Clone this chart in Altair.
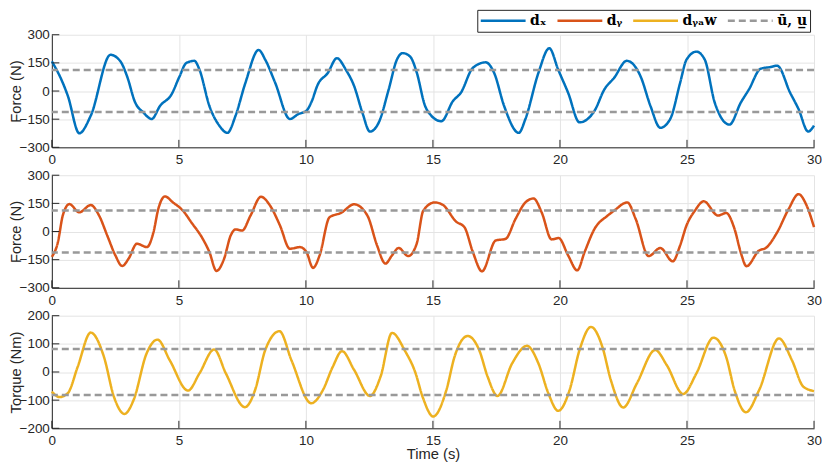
import altair as alt
import pandas as pd

# ---- data ----
T_DX = [0.0, 0.43, 0.63, 1.08, 1.53, 2.31, 2.7, 2.96, 3.28, 3.6, 3.93, 4.26, 4.71, 5.03, 5.29,
        5.61, 5.81, 6.2, 6.59, 6.91, 7.23, 7.62, 8.14, 8.4, 8.79, 9.37, 9.7, 10.02, 10.21, 10.47,
        10.86, 11.22, 11.57, 11.9, 12.22, 12.52, 12.87, 13.26, 13.58, 13.81, 14.1, 14.36, 14.68,
        14.94, 15.33, 15.79, 16.1, 16.57, 17.08, 17.41, 17.8, 18.38, 18.64, 19.15, 19.58, 19.93,
        20.32, 20.77, 21.36, 21.75, 22.13, 22.63, 23.17, 23.56, 23.95, 24.34, 24.73, 24.98, 25.37,
        25.7, 26.09, 26.67, 27.12, 27.44, 27.9, 28.29, 28.55, 29.06, 29.39, 29.77, 30.0]
V_DX = [158, 44, -26, -225, -132, 193, 158, 79, -61, -114, -149, -79, -18, 79, 149,
        161, 114, -79, -184, -223, -132, 44, 219, 167, 44, -149, -123, -105, -61, 35,
        96, 175, 114, 26, -114, -216, -167, 9, 167, 202, 184, 100, -75,
        -132, -161, -53, -9, 123, 153, 96, -79, -223, -149, 96, 228, 114,
        -9, -167, -105, 9, 70, 161, 79, -79, -196, -149, 44, 167, 210,
        167, -61, -179, -61, 9, 119, 128, 135, -9, -96, -216, -184]

T_DY = [0.0, 0.24, 0.43, 0.69, 1.08, 1.53, 1.86, 2.18, 2.5, 2.77, 3.02, 3.35, 3.74, 4.0, 4.19,
        4.45, 4.77, 5.16, 5.49, 5.94, 6.2, 6.48, 6.78, 7.04, 7.23, 7.49, 7.82, 8.23, 8.59, 8.98,
        9.37, 9.76, 10.02, 10.28, 10.54, 10.93, 11.38, 11.9, 12.42, 12.8, 13.13, 13.39, 13.65,
        14.03, 14.36, 14.62, 15.07, 15.4, 15.91, 16.24, 16.57, 16.93, 17.47, 17.86, 18.25, 18.64,
        18.96, 19.28, 19.67, 19.95, 20.32, 20.68, 20.97, 21.36, 21.88, 22.13, 22.65, 22.98, 23.49,
        23.95, 24.44, 24.73, 24.98, 25.31, 25.66, 26.22, 26.54, 26.87, 27.13, 27.34, 27.84, 28.1,
        28.55, 29.0, 29.39, 29.71, 30.0]
V_DY = [-135, -56, 85, 146, 102, 141, 85, -21, -127, -184, -145, -65, -83, -4, 120,
        187, 155, 111, 49, -39, -109, -210, -145, -21, 11, 5, 85, 185, 138, 32,
        -92, -83, -109, -194, -127, 76, 99, 145, 85, -74, -171, -127, -88,
        -131, -65, 111, 155, 141, 53, 23, -109, -212, -48, -39, 67, 155,
        176, 102, -42, -35, -127, -207, -109, 14, 85, 111, 155, 67, -131,
        -88, -159, -74, 32, 111, 161, 85, 99, 14, -118, -185, -101, -88,
        -4, 120, 199, 138, 23]

T_DYAW = [0.0, 0.3, 0.63, 1.02, 1.53, 2.05, 2.44, 2.86, 3.22, 3.73, 4.16, 4.64, 5.36, 5.81, 6.39,
          6.85, 7.6, 8.0, 8.4, 8.96, 9.43, 10.21, 10.67, 11.06, 11.42, 11.9, 12.52, 12.94, 13.39,
          13.9, 14.3, 14.6, 15.01, 15.53, 15.85, 16.37, 16.82, 17.15, 17.54, 18.12, 18.7, 19.15,
          19.54, 19.93, 20.38, 20.77, 21.22, 21.67, 22.0, 22.49, 23.03, 23.75, 24.2, 24.85, 25.37,
          26.04, 26.54, 26.87, 27.32, 27.84, 28.62, 29.13, 29.58, 30.0]
V_DYAW = [-70, -89, -75, 19, 140, 54, -87, -149, -99, 66, 115, 42, -66, -5, 80,
          -5, -125, -64, 78, 145, 42, -111, -64, 19, 74, 7, -85, -16, 139,
          75, 0, -90, -158, -64, 54, 128, 78, -16, -85, 31, 93, 31,
          -75, -138, -64, 78, 160, 89, -28, -126, -40, 78, 25, -78, -5,
          122, 54, -64, -143, -64, 119, 42, -52, -68]

BOUND_FORCE = [112, -112]
BOUND_TORQUE = [82, -82]

SERIES = ["d\u2093", "d\u1d67", "d\u1d67\u2090w", "\u016b, u\u0332"]
COLORS = ["#0072BD", "#D95319", "#EDB120", "#999999"]
X_TICKS = [0, 5, 10, 15, 20, 25, 30]
Y_TICKS_FORCE = [-300, -150, 0, 150, 300]
Y_TICKS_TORQUE = [-200, -100, 0, 100, 200]

# ---- styling ----
W, H = 765, 113
TXT = "#262626"
FONT = "Liberation Sans"
TICK_LEN = 7.5

color_scale = alt.Scale(domain=SERIES, range=COLORS)
dash_scale = alt.Scale(domain=SERIES, range=[[1, 0], [1, 0], [1, 0], [7, 4]])


def make_legend():
    return alt.Legend(
        title=None, orient="none", legendX=427, legendY=-25, direction="horizontal",
        symbolType="stroke", symbolSize=2025, symbolStrokeWidth=2.5, clipHeight=18,
        labelOffset=3,
        labelFont="DejaVu Serif", labelFontWeight="bold", labelFontSize=14,
        labelColor="#000000", fillColor="#ffffff", strokeColor=TXT,
        padding=2, columnPadding=9,
    )


def panel(t, v, name, bounds, ydom, yticks, ytitle, first, last):
    df = pd.DataFrame({"t": t, "v": v, "s": name})
    bdf = pd.DataFrame({"v": bounds, "s": SERIES[3]})
    xt = pd.DataFrame({"t": X_TICKS})
    yt = pd.DataFrame({"v": yticks})

    xaxis = alt.Axis(values=X_TICKS, grid=True, ticks=False, tickSize=0, labelFlush=False,
                     labelOverlap=False, labelPadding=(5 if last else 5.5),
                     title=("Time (s)" if last else None), titlePadding=0)
    yaxis = alt.Axis(values=yticks, grid=True, ticks=False, tickSize=0, labelPadding=2.5,
                     labelOverlap=False, title=ytitle, titlePadding=-4)
    x = alt.X("t:Q", scale=alt.Scale(domain=[0, 30], nice=False, zero=False), axis=xaxis)
    y = alt.Y("v:Q", scale=alt.Scale(domain=ydom, nice=False, zero=False), axis=yaxis)

    leg = make_legend() if first else None
    line = alt.Chart(df).mark_line(strokeWidth=2.5, interpolate="monotone").encode(
        x=x, y=y,
        color=alt.Color("s:N", scale=color_scale, legend=leg),
        strokeDash=alt.StrokeDash("s:N", scale=dash_scale, legend=leg),
    )
    rules = alt.Chart(bdf).mark_rule(strokeWidth=2.5).encode(
        y=alt.Y("v:Q", axis=yaxis),
        color=alt.Color("s:N", scale=color_scale, legend=leg),
        strokeDash=alt.StrokeDash("s:N", scale=dash_scale, legend=leg),
    )
    xticks = alt.Chart(xt).mark_rule(color=TXT, strokeWidth=1).encode(
        x=alt.X("t:Q", axis=xaxis), y=alt.value(H - TICK_LEN), y2=alt.value(H)
    )
    yticks_m = alt.Chart(yt).mark_rule(color=TXT, strokeWidth=1).encode(
        y=alt.Y("v:Q", axis=yaxis), x=alt.value(0), x2=alt.value(TICK_LEN)
    )
    return alt.layer(line, rules, xticks, yticks_m).properties(width=W, height=H)


p1 = panel(T_DX, V_DX, SERIES[0], BOUND_FORCE, [-300, 300], Y_TICKS_FORCE, "Force (N)", True, False)
p2 = panel(T_DY, V_DY, SERIES[1], BOUND_FORCE, [-300, 300], Y_TICKS_FORCE, "Force (N)", False, False)
p3 = panel(T_DYAW, V_DYAW, SERIES[2], BOUND_TORQUE, [-200, 200], Y_TICKS_TORQUE, "Torque (Nm)", False, True)

chart = (
    alt.vconcat(p1, p2, p3, spacing=2)
    .resolve_scale(color="independent", strokeDash="independent")
    .resolve_legend(color="independent", strokeDash="independent")
    .properties(padding=0, background="#ffffff")
    .configure_view(strokeWidth=0)
    .configure_axis(
        labelFont=FONT, titleFont=FONT, labelFontSize=13.5, titleFontSize=14.8,
        titleFontWeight="normal", labelColor=TXT, titleColor=TXT,
        domainColor=TXT, domainWidth=1, gridColor="#e4e4e4", gridWidth=1,
    )
)

chart.save("out.html", embed_options={"renderer": "svg", "actions": False})
